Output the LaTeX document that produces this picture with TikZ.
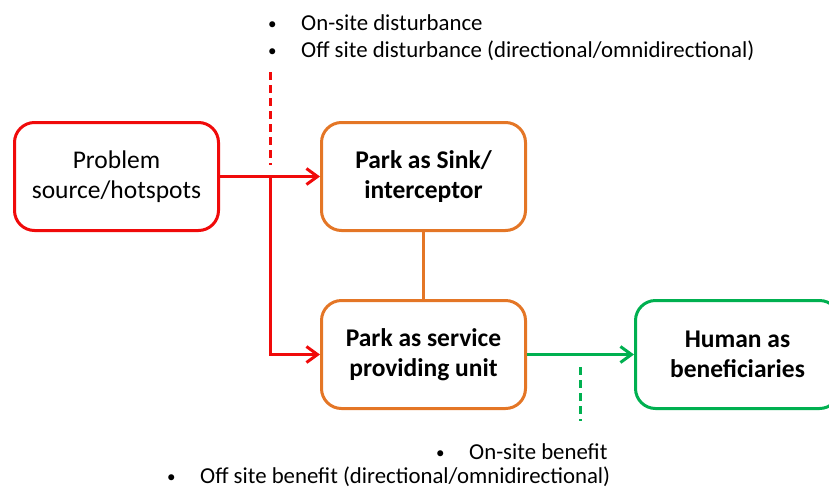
\documentclass[tikz,border=0pt]{standalone}
\usepackage{fontspec}
\setmainfont{Carlito}
\usepackage{tikz}
\usetikzlibrary{arrows.meta,positioning}

\definecolor{hotred}{RGB}{240,10,10}
\definecolor{parkorange}{RGB}{228,118,38}
\definecolor{humangreen}{RGB}{0,176,80}

\newcommand{\dotitem}{\makebox[33pt][l]{\raisebox{1pt}{\fontsize{17}{17}\selectfont•}}}

\begin{document}
\begin{tikzpicture}
[
x=1pt, y=-1pt,
box/.style={draw, text=black, rounded corners=20pt, line width=3pt,
	minimum width=204pt, minimum height=108pt, align=center,
	font=\fontsize{25.5}{30}\selectfont},
flow/.style={line width=3pt, -{Straight Barb[length=11pt,width=16pt]}},
note/.style={anchor=base west, inner sep=0pt, font=\fontsize{22.8}{27}\selectfont}]
\useasboundingbox (0,0) rectangle (829,488);

% boxes
\node[box, draw=hotred] (src) at (116.5,176.5) {Problem\\source/hotspots};
\node[box, draw=parkorange] (sink) at (423.5,176.5) {\bfseries Park as Sink/\\\bfseries interceptor};
\node[box, draw=parkorange] (svc) at (423.5,354.5) {\bfseries Park as service\\\bfseries providing unit};
\node[box, draw=humangreen] (human) at (737.5,354.5) {\bfseries Human as\\\bfseries beneficiaries};

% disturbance side
\coordinate (split) at (270,176.5);
\coordinate (distup) at (270,72);
\coordinate (distdown) at (270,165);
\draw[hotred, line width=3pt] (src.east) -- (split);
\draw[flow, hotred] (split) -- (sink.west);
\draw[flow, hotred] (split) |- (svc.west);
\draw[hotred, line width=3pt, dash pattern=on 8pt off 5pt] (distup) -- (distdown);
\node[note] (dist1) at (268,30) {\dotitem On-site disturbance};
\node[note] (dist2) at (268,57) {\dotitem Off site disturbance (directional/omnidirectional)};

% benefit side
\draw[parkorange, line width=3pt] (sink.south) -- (svc.north);
\draw[flow, humangreen] (svc.east) -- (human.west);
\coordinate (benup) at (580,367);
\coordinate (bendown) at (580,421);
\draw[humangreen, line width=3pt, dash pattern=on 8pt off 5pt] (benup) -- (bendown);
\node[note] (ben1) at (436,459) {\dotitem On-site benefit};
\node[note] (ben2) at (167,483) {\dotitem Off site benefit (directional/omnidirectional)};
\end{tikzpicture}
\end{document}
